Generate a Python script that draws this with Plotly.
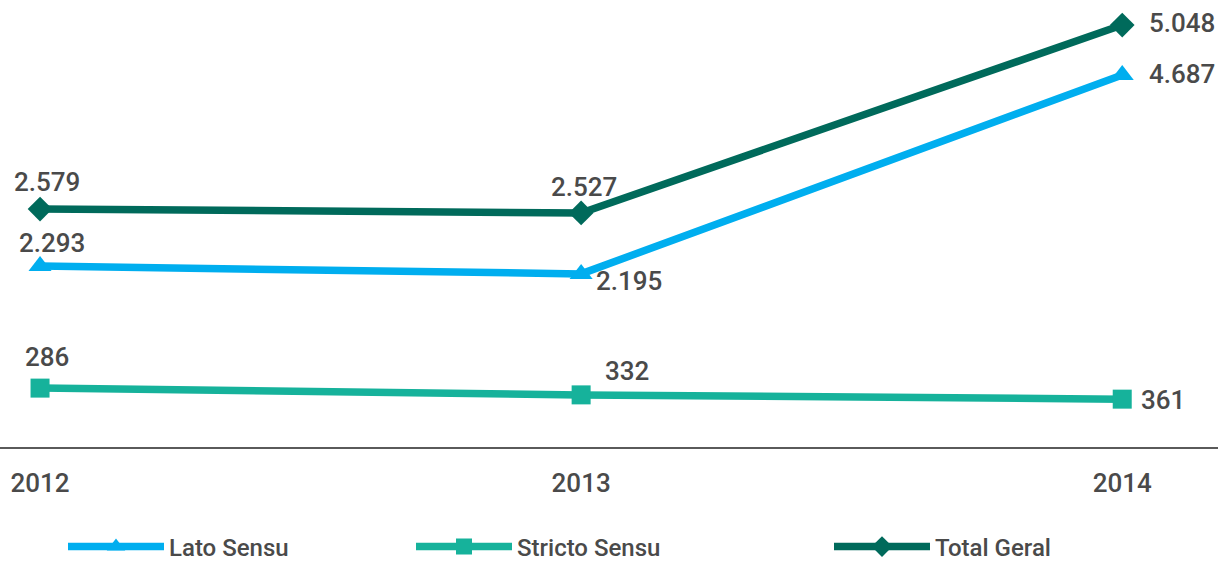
import plotly.graph_objects as go

# ---- data ----
years = [2012, 2013, 2014]
year_labels = ["2012", "2013", "2014"]
lato_sensu = [2293, 2195, 4687]
stricto_sensu = [286, 332, 361]
total_geral = [2579, 2527, 5048]


def fmt(v):
    return f"{v:,}".replace(",", ".")


TEXT = "#4a4a4a"
FONT = "Roboto"
C_LATO = "#00aeef"
C_STRICTO = "#16b29b"
C_TOTAL = "#006a5b"

# label offsets (px) relative to each point: (xshift, yshift)
off_total = [(7, 27), (3, 26), (60, 2)]
off_lato = [(12, 23), (48, -7), (60, 1)]
off_stricto = [(7, 31), (46, 24), (41, -1)]

fig = go.Figure()

series = [
    ("Lato Sensu", lato_sensu, C_LATO, "triangle-up", 20, "y2", "legend", off_lato),
    ("Stricto Sensu", stricto_sensu, C_STRICTO, "square", 19, "y3", "legend2", off_stricto),
    ("Total Geral", total_geral, C_TOTAL, "diamond", 19, "y", "legend3", off_total),
]

annotations = []
for name, vals, col, sym, size, yax, leg, offs in series:
    fig.add_trace(go.Scatter(
        x=years, y=vals, name=name, mode="lines+markers",
        line=dict(color=col, width=7.5),
        marker=dict(symbol=sym, size=size, color=col),
        yaxis=yax, legend=leg, cliponaxis=False,
        hoverinfo="skip",
    ))
    for xv, yv, (dx, dy) in zip(years, vals, offs):
        annotations.append(dict(
            x=xv, y=yv, xref="x", yref=yax, text=fmt(yv), showarrow=False,
            xshift=dx, yshift=dy,
            font=dict(family=FONT, size=26, color=TEXT, weight=500),
        ))

leg_font = dict(family=FONT, size=24, color=TEXT, weight=500)
leg_common = dict(orientation="h", xanchor="left", yanchor="middle", y=-0.2237,
                  itemwidth=96, font=leg_font, bgcolor="rgba(0,0,0,0)",
                  borderwidth=0, itemclick=False, itemdoubleclick=False)

fig.update_layout(
    width=1218, height=563,
    margin=dict(l=0, r=0, t=0, b=116, autoexpand=False),
    paper_bgcolor="white", plot_bgcolor="white",
    font=dict(family=FONT, color=TEXT),
    xaxis=dict(
        range=[2011.926, 2014.177], tickvals=years, ticktext=year_labels,
        showgrid=False, zeroline=False, showline=True, linecolor="#5a5a5a",
        linewidth=2, ticks="", ticklabelstandoff=12,
        tickfont=dict(family=FONT, size=26, color=TEXT, weight=500),
        fixedrange=True,
    ),
    yaxis=dict(range=[-613, 5384], visible=False, fixedrange=True),
    yaxis2=dict(range=[25, 5628], visible=False, overlaying="y", fixedrange=True),
    yaxis3=dict(range=[686, -2350], visible=False, overlaying="y", fixedrange=True),
    legend=dict(x=63 / 1218, **leg_common),
    legend2=dict(x=411 / 1218, **leg_common),
    legend3=dict(x=829 / 1218, **leg_common),
    annotations=annotations,
    showlegend=True,
)

fig.write_html(
    "out.html",
    config={"displayModeBar": False, "staticPlot": True},
    post_script="document.body.style.margin='0';document.body.style.overflow='hidden';",
)
